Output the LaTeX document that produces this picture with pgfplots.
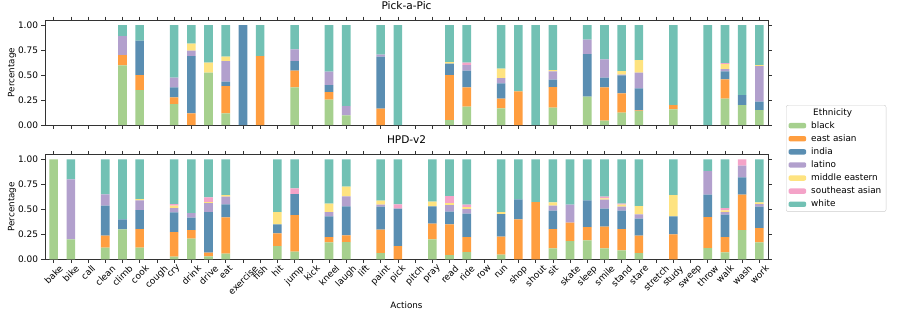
\documentclass[border=0pt]{standalone}
\usepackage{graphicx}
\usepackage{pgfplots}
\pgfplotsset{compat=1.18}
\usepackage{pgfplotstable}
\usepackage{fontspec}
\setmainfont{DejaVu Sans}

\definecolor{cbl}{RGB}{166,208,142}
\definecolor{cea}{RGB}{255,158,64}
\definecolor{cin}{RGB}{90,142,178}
\definecolor{cla}{RGB}{178,160,205}
\definecolor{cme}{RGB}{254,227,128}
\definecolor{cse}{RGB}{244,163,200}
\definecolor{cwh}{RGB}{114,193,180}

\newcommand\rl[1]{\rotatebox{45}{#1}}

\pgfplotstableread{
x bl ea in la me se wh
4 0.597 0.103 0 0.19 0 0 0.11
5 0.35 0.15 0.343 0 0 0 0.157
7 0.21 0.067 0.10 0.096 0 0 0.527
8 0 0.117 0.573 0.053 0.07 0 0.187
9 0.523 0 0 0 0.10 0 0.377
10 0.117 0.273 0.043 0.207 0.043 0 0.317
11 0 0 1 0 0 0 0
12 0 0.69 0 0 0 0 0.31
14 0.377 0.166 0.097 0.117 0 0 0.243
16 0.253 0.077 0.07 0.133 0 0 0.467
17 0.097 0 0 0.093 0 0 0.81
19 0 0.163 0.52 0.02 0 0 0.297
20 0 0 0 0 0 0 1
23 0.05 0.45 0.113 0 0.017 0 0.37
24 0.183 0.194 0.166 0.057 0 0.023 0.377
26 0.167 0.096 0.154 0.053 0.093 0 0.437
27 0 0.337 0 0 0 0 0.663
28 0 0 0 0 0 0 1
29 0.173 0.207 0.073 0.084 0.013 0 0.45
31 0.283 0 0.427 0.143 0 0 0.147
32 0.043 0.334 0.096 0.184 0 0 0.343
33 0.123 0.194 0.18 0.006 0.037 0 0.46
34 0.14 0.007 0.22 0.156 0.127 0 0.35
36 0.157 0.043 0 0 0 0 0.80
38 0 0 0 0 0 0 1
39 0.263 0.194 0.08 0.023 0.05 0.01 0.38
40 0.20 0 0.10 0 0 0 0.70
41 0.15 0 0.083 0.357 0.01 0 0.40
}\topdata

\pgfplotstableread{
x bl ea in la me se wh
0 1 0 0 0 0 0 0
1 0.20 0 0 0.60 0 0 0.20
3 0.117 0.12 0.30 0.113 0 0 0.35
4 0.30 0 0.10 0 0 0 0.60
5 0.117 0.186 0.19 0.097 0.013 0 0.397
7 0.027 0.246 0.197 0.043 0.024 0.016 0.447
8 0.207 0.086 0.124 0.046 0 0 0.537
9 0.03 0.037 0.406 0.09 0.01 0.047 0.38
10 0.057 0.363 0.13 0.077 0.016 0 0.357
13 0.133 0.127 0.09 0 0.123 0 0.527
14 0.077 0.366 0.21 0 0 0.057 0.29
16 0.17 0.053 0.207 0.043 0.084 0 0.443
17 0.173 0.067 0.29 0.10 0.097 0 0.273
19 0.063 0.234 0.23 0.02 0.04 0 0.413
20 0 0.133 0.374 0 0 0.043 0.45
22 0.20 0.157 0.173 0 0.047 0 0.423
23 0.043 0.307 0.127 0.066 0.02 0.07 0.367
24 0.073 0.15 0.234 0.046 0.02 0.024 0.453
26 0.047 0.18 0.226 0 0.02 0 0.527
27 0 0.40 0.20 0 0 0 0.40
28 0 0.573 0 0 0 0 0.427
29 0.11 0.193 0.184 0.05 0.033 0 0.43
30 0.183 0.184 0 0.18 0 0 0.453
31 0.19 0.133 0.267 0 0 0 0.41
32 0.11 0.217 0.18 0.09 0.013 0.017 0.373
33 0.09 0.213 0.184 0.04 0.02 0.01 0.443
34 0.063 0.174 0.17 0.043 0.083 0 0.467
36 0 0.25 0.18 0 0.213 0 0.357
38 0.113 0.31 0.224 0.236 0 0 0.117
39 0.07 0.153 0.224 0.026 0.017 0.023 0.487
40 0.293 0.354 0.173 0.117 0 0.063 0
41 0.17 0.143 0.214 0.026 0.017 0 0.43
}\botdata

\pgfplotsset{
  mybars/.style={
    scale only axis, width=723bp, height=105bp,
    xmin=-0.5, xmax=41.5, ymin=0, ymax=1.05,
    ybar stacked, bar width=0.5,
    xtick={0,...,41},
    ytick={0,0.25,0.5,0.75,1},
    yticklabel style={/pgf/number format/.cd, fixed, fixed zerofill, precision=2},
    /pgf/number format/assume math mode=true,
    tick align=outside, major tick length=3.5bp,
    tick style={black!80, line width=0.6bp},
    axis line style={black!80, line width=0.6bp},
    tick label style={font=\fontsize{9}{10}\selectfont},
    label style={font=\fontsize{8.8}{10}\selectfont},
    ylabel=Percentage,
    ylabel style={at={(axis description cs:-0.0456,0.5)}, anchor=center},
    title style={font=\fontsize{10.6}{12}\selectfont, at={(axis description cs:0.5,1.084)}, anchor=center},
    every axis plot/.append style={draw=none},
    legend image code/.code={\fill[##1] (0bp,-2.7bp) rectangle (17.7bp,2.7bp);},
  }
}

\begin{document}
\begin{tikzpicture}[x=1bp,y=1bp]
\useasboundingbox (0,0) rectangle (897,-317);
\begin{axis}[mybars, at={(45bp,-20bp)}, anchor=north west,
  title={Pick-a-Pic}, xticklabels={}]
\addplot[fill=cbl] table[x=x,y=bl]{\topdata};
\addplot[fill=cea] table[x=x,y=ea]{\topdata};
\addplot[fill=cin] table[x=x,y=in]{\topdata};
\addplot[fill=cla] table[x=x,y=la]{\topdata};
\addplot[fill=cme] table[x=x,y=me]{\topdata};
\addplot[fill=cse] table[x=x,y=se]{\topdata};
\addplot[fill=cwh] table[x=x,y=wh]{\topdata};
\end{axis}
\begin{axis}[mybars, at={(45bp,-154.3bp)}, anchor=north west,
  title={HPD-v2},
  xticklabels={\rl{bake},\rl{bike},\rl{call},\rl{clean},\rl{climb},\rl{cook},\rl{cough},\rl{cry},\rl{drink},\rl{drive},\rl{eat},\rl{exercise},\rl{fish},\rl{hit},\rl{jump},\rl{kick},\rl{kneel},\rl{laugh},\rl{lift},\rl{paint},\rl{pick},\rl{pitch},\rl{pray},\rl{read},\rl{ride},\rl{row},\rl{run},\rl{shop},\rl{shout},\rl{sit},\rl{skate},\rl{sleep},\rl{smile},\rl{stand},\rl{stare},\rl{stretch},\rl{study},\rl{sweep},\rl{throw},\rl{walk},\rl{wash},\rl{work}},
  xticklabel style={anchor=north, inner sep=1.5bp},
  xlabel=Actions,
  xlabel style={at={(axis description cs:0.5,-0.435)}, anchor=center},
  legend style={at={(1.0249,1.4695)}, anchor=north west, draw=black!20, rounded corners=2bp,
    font=\fontsize{8.9}{10}\selectfont, row sep=0.4bp, column sep=2.6bp,
    inner xsep=2.3bp, inner ysep=1bp,
    nodes={inner xsep=2.4bp, inner ysep=2bp, text height=6.8bp, text depth=1.9bp}},
  legend cell align=left]
\addlegendimage{empty legend}
\addlegendentry{\hspace{2bp}Ethnicity}
\addplot[fill=cbl] table[x=x,y=bl]{\botdata};
\addlegendentry{black}
\addplot[fill=cea] table[x=x,y=ea]{\botdata};
\addlegendentry{east asian}
\addplot[fill=cin] table[x=x,y=in]{\botdata};
\addlegendentry{india}
\addplot[fill=cla] table[x=x,y=la]{\botdata};
\addlegendentry{latino}
\addplot[fill=cme] table[x=x,y=me]{\botdata};
\addlegendentry{middle eastern}
\addplot[fill=cse] table[x=x,y=se]{\botdata};
\addlegendentry{southeast asian}
\addplot[fill=cwh] table[x=x,y=wh]{\botdata};
\addlegendentry{white}
\end{axis}
\end{tikzpicture}
\end{document}
